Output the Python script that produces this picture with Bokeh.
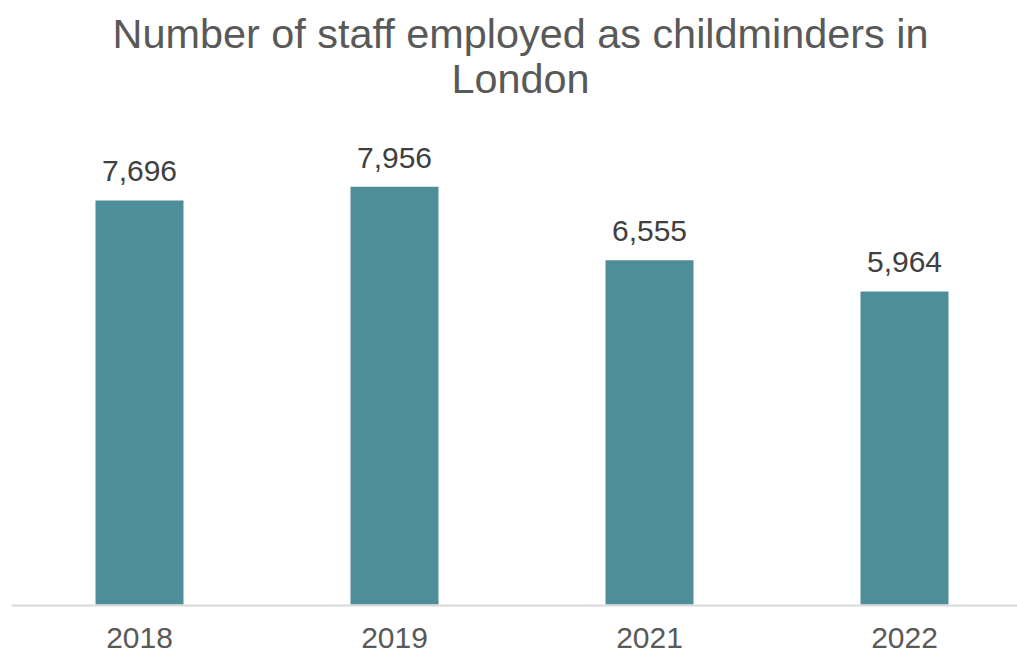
from bokeh.plotting import figure
from bokeh.models import ColumnDataSource, Range1d
from bokeh.core.properties import value
from bokeh.embed import file_html
from bokeh.resources import INLINE

years = ["2018", "2019", "2021", "2022"]
staff = [7696, 7956, 6555, 5964]
title_lines = ["Number of staff employed as childminders in", "London"]

BAR = "#4E8E98"
FONT = value("Liberation Sans")

W, H = 1017, 651
px_per_unit = 0.0525      # vertical pixels per staff member
cat_px = 255.0            # pixels between category centres
first_center_px = 139.0   # x of first category centre
base_px = 604.0           # y of the baseline

def ux(px):
    return (px - first_center_px) / cat_px

def uy(py):
    return (base_px - py) / px_per_unit

p = figure(width=W, height=H, output_backend="svg", toolbar_location=None,
           x_range=Range1d(ux(0), ux(W)), y_range=Range1d(uy(H), uy(0)),
           min_border=0)
p.xaxis.visible = False
p.yaxis.visible = False
p.grid.visible = False
p.outline_line_color = None
p.background_fill_color = "white"
p.border_fill_color = "white"

xs = list(range(len(years)))
src = ColumnDataSource(dict(
    x=xs, top=staff, year=years,
    lab=[f"{v:,}" for v in staff],
    ly=[v + 29 / px_per_unit for v in staff],
    ty=[uy(637)] * len(years),
))
p.vbar(x="x", top="top", bottom=0, width=88 / cat_px, source=src,
       fill_color=BAR, line_color=None)

p.segment(x0=[ux(11)], y0=[uy(605)], x1=[ux(W)], y1=[uy(605)],
          line_color="#D9D9D9", line_width=2)

p.text(x="x", y="ly", text="lab", source=src, text_align="center",
       text_baseline="alphabetic", text_font=FONT, text_font_size="30px",
       text_color="#404040")
p.text(x="x", y="ty", text="year", source=src, text_align="center",
       text_baseline="alphabetic", text_font=FONT, text_font_size="30px",
       text_color="#595959")

p.text(x=[ux(520)] * 2, y=[uy(33), uy(78)], text=title_lines,
       text_align="center", text_baseline="alphabetic", text_font=FONT,
       text_font_size="41.4px", text_color="#595959")

open("out.html", "w").write(file_html(p, INLINE))
